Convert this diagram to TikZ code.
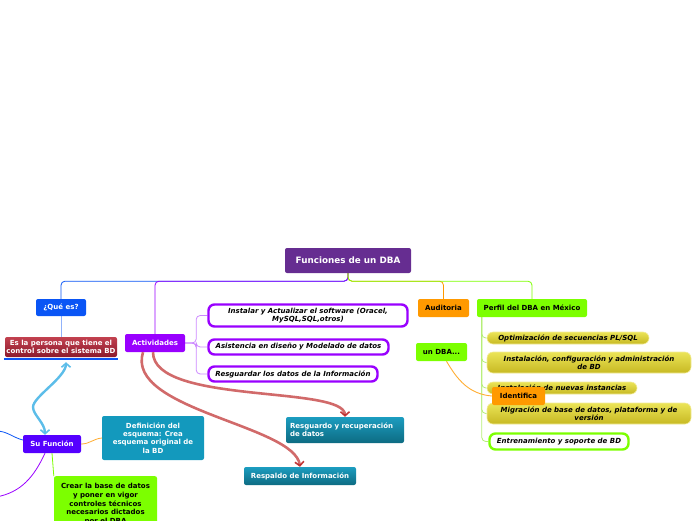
\documentclass[tikz,border=0pt]{standalone}
\usepackage{fontspec}
\setmainfont{DejaVu Sans}
\usetikzlibrary{arrows.meta,backgrounds}

\definecolor{rootpurple}{HTML}{662D91}
\definecolor{queblue}{HTML}{0A55F5}
\definecolor{redtop}{HTML}{C2414F}
\definecolor{redbot}{HTML}{8C1A2C}
\definecolor{actpurple}{HTML}{9900FF}
\definecolor{actline}{HTML}{CC88FF}
\definecolor{audorange}{HTML}{FF9900}
\definecolor{perfilgreen}{HTML}{7CFF00}
\definecolor{perfilline}{HTML}{B5EE77}
\definecolor{funcviolet}{HTML}{5500FF}
\definecolor{tealbox}{HTML}{1399BD}
\definecolor{tealtop}{HTML}{1C9DC0}
\definecolor{tealbot}{HTML}{0D6B82}
\definecolor{pilltop}{HTML}{EBE457}
\definecolor{pillbot}{HTML}{C7B923}
\definecolor{pilledge}{HTML}{F2EC9A}
\definecolor{curvered}{HTML}{CC5A5A}
\definecolor{tipred}{HTML}{BB2222}
\definecolor{skyblue}{HTML}{5CBDE9}

\begin{document}
\begin{tikzpicture}[x=1pt, y=-1pt,
    box/.style={rectangle, rounded corners=2pt, align=center, inner sep=1pt,
        font=\fontsize{7}{8.4}\selectfont\bfseries},
    whitetext/.style={box, text=white},
    actchild/.style={box, draw=actpurple, line width=2.4pt, fill=white,
        rounded corners=6pt, font=\fontsize{7}{8.4}\selectfont\bfseries\itshape},
    pill/.style={box, draw=pilledge, line width=0.6pt, top color=pilltop, bottom color=pillbot,
        rounded corners=6pt, font=\fontsize{7}{8.4}\selectfont\bfseries\itshape},
    rededge/.style={draw=curvered, opacity=0.9, line width=2.6pt,
        -{Straight Barb[length=4pt, width=9pt, line width=1.6pt, color=tipred]}},
    branch/.style={rounded corners=4pt, line width=0.8pt}]

    \useasboundingbox (0,0) rectangle (696,520);

    % main topic and first level
    \node [box, whitetext, fill=rootpurple, minimum width=126pt, minimum height=25pt,
        font=\fontsize{8.8}{10}\selectfont\bfseries] (root) at (348,260.5) {Funciones de un DBA};
    \node [whitetext, fill=queblue, minimum width=50pt, minimum height=17pt] (que) at (61,307.5) {¿Qué es?};
    \node [whitetext, top color=redtop, bottom color=redbot, minimum width=112pt, minimum height=20pt] (persona) at (61,347) {Es la persona que tiene el\\control sobre el sistema BD};
    \node [whitetext, fill=actpurple, minimum width=60pt, minimum height=18pt] (act) at (155,343) {Actividades};
    \node [box, fill=audorange, minimum width=51pt, minimum height=18pt] (aud) at (443.5,308) {Auditoria};
    \node [box, fill=perfilgreen, minimum width=110pt, minimum height=18pt] (perfil) at (532,308) {Perfil del DBA en México};

    % Actividades
    \node [actchild, minimum width=199pt, minimum height=22pt] (inst) at (308,315.5) {Instalar y Actualizar el software (Oracel,\\MySQL,SQL,otros)};
    \node [actchild, minimum width=180pt, minimum height=15pt] (asis) at (298.5,347) {Asistencia en diseño y Modelado de datos};
    \node [actchild, minimum width=169pt, minimum height=15pt] (resg) at (293,374) {Resguardar los datos de la Información};

    % Perfil
    \node [pill, minimum width=162pt, minimum height=12pt] (opt) at (568,338) {Optimización de secuencias PL/SQL};
    \node [pill, minimum width=204pt, minimum height=21pt] (instconf) at (589,362.5) {Instalación, configuración y administración\\de BD};
    \node [pill, minimum width=150pt, minimum height=12pt] (nuevas) at (562,388) {Instalación de nuevas instancias};
    \node [pill, minimum width=204pt, minimum height=21pt] (migr) at (589,413.5) {Migración de base de datos, plataforma y de\\versión};
    \node [actchild, draw=perfilgreen, minimum width=139pt, minimum height=16pt] (entren) at (559,441.5) {Entrenamiento y soporte de BD};

    \node [box, fill=perfilgreen, minimum width=51pt, minimum height=18pt] (undba) at (441.5,352) {un DBA...};
    \node [box, fill=audorange, minimum width=53pt, minimum height=18pt] (ident) at (518.5,396) {Identifica};

    % Su Funcion
    \node [whitetext, fill=funcviolet, minimum width=58pt, minimum height=18pt] (sufun) at (52,444) {Su Función};
    \node [whitetext, fill=tealbox, minimum width=102pt, minimum height=44pt] (defin) at (153,438) {Definición del\\esquema: Crea\\esquema original de\\la BD};
    \node [box, fill=perfilgreen, anchor=north, minimum width=103pt, minimum height=56pt,
        font=\fontsize{7}{8.6}\selectfont\bfseries] (crear) at (105.5,476) {Crear la base de datos\\y poner en vigor\\controles técnicos\\necesarios dictados\\por el DBA};
    \node [whitetext, top color=tealtop, bottom color=tealbot, align=left, minimum width=118pt, minimum height=26pt, text width=110pt] (resguardo) at (345,430) {Resguardo y recuperación\\de datos};
    \node [whitetext, top color=tealtop, bottom color=tealbot, minimum width=112pt, minimum height=18pt] (respaldo) at (300,476) {Respaldo de Información};

    \coordinate (offblue) at (-4,431);
    \coordinate (offviolet) at (-4,497);

    \begin{scope}[on background layer]
        \path [draw, branch, queblue] (root.south) -- ++(0,8) -| (que.north);
        \path [draw, branch, actpurple] (root.south) -- ++(0,8) -| (act.north);
        \path [draw, branch, audorange] (root.south) -- ++(0,8) -| (aud.north);
        \path [draw, branch, perfilgreen] (root.south) -- ++(0,8) -| (perfil.north);
        \path [draw, line width=0.8pt, queblue!45] (que.south) -- (persona.north);

        \path [draw, branch, actline] (act.east) -- ++(11,0) |- (inst.west);
        \path [draw, branch, actline] (act.east) -- ++(11,0) |- (asis.west);
        \path [draw, branch, actline] (act.east) -- ++(11,0) |- (resg.west);

        \path [draw, branch, perfilline] ([xshift=5pt]perfil.south west) |- (opt.west);
        \path [draw, branch, perfilline] ([xshift=5pt]perfil.south west) |- (instconf.west);
        \path [draw, branch, perfilline] ([xshift=5pt]perfil.south west) |- (nuevas.west);
        \path [draw, branch, perfilline] ([xshift=5pt]perfil.south west) |- (migr.west);
        \path [draw, branch, perfilline] ([xshift=5pt]perfil.south west) |- (entren.west);

        \path [draw, line width=0.9pt, audorange!80] ([xshift=5pt]undba.south) to[out=-60, in=175] (ident.west);

        \path [draw, line width=0.8pt, queblue] (offblue) to[out=0, in=165] ([yshift=4pt]sufun.west);
        \path [draw, line width=0.8pt, actpurple] ([xshift=-7pt]sufun.south) to[out=-115, in=10] (offviolet);
        \path [draw, line width=0.8pt, audorange!80] (sufun.east) to[out=0, in=185] (defin.west);
        \path [draw, line width=0.8pt, perfilgreen] (sufun.south) -- (crear.north west);
    \end{scope}

    % underline of the red box
    \path [draw, line width=2pt, queblue] ([xshift=-1pt, yshift=-2pt]persona.south west) -- ([xshift=1pt, yshift=-2pt]persona.south east);

    % cross links
    \path [rededge] ([xshift=-2pt]act.south) .. controls (153,405) and (345,385) .. (resguardo.north);
    \path [rededge] ([xshift=-12pt]act.south) .. controls (125,410) and (295,425) .. (respaldo.north);
    \path [draw, skyblue, line width=2.4pt,
        {Straight Barb[length=4pt, width=9pt, line width=1.6pt]}-{Straight Barb[length=4pt, width=9pt, line width=1.6pt]}]
        ([xshift=-7pt]sufun.north) .. controls +(0,-12) and +(0,8) .. (33,407)
        .. controls +(0,-10) and +(0,15) .. ([xshift=5pt, yshift=-5pt]persona.south);
\end{tikzpicture}
\end{document}
